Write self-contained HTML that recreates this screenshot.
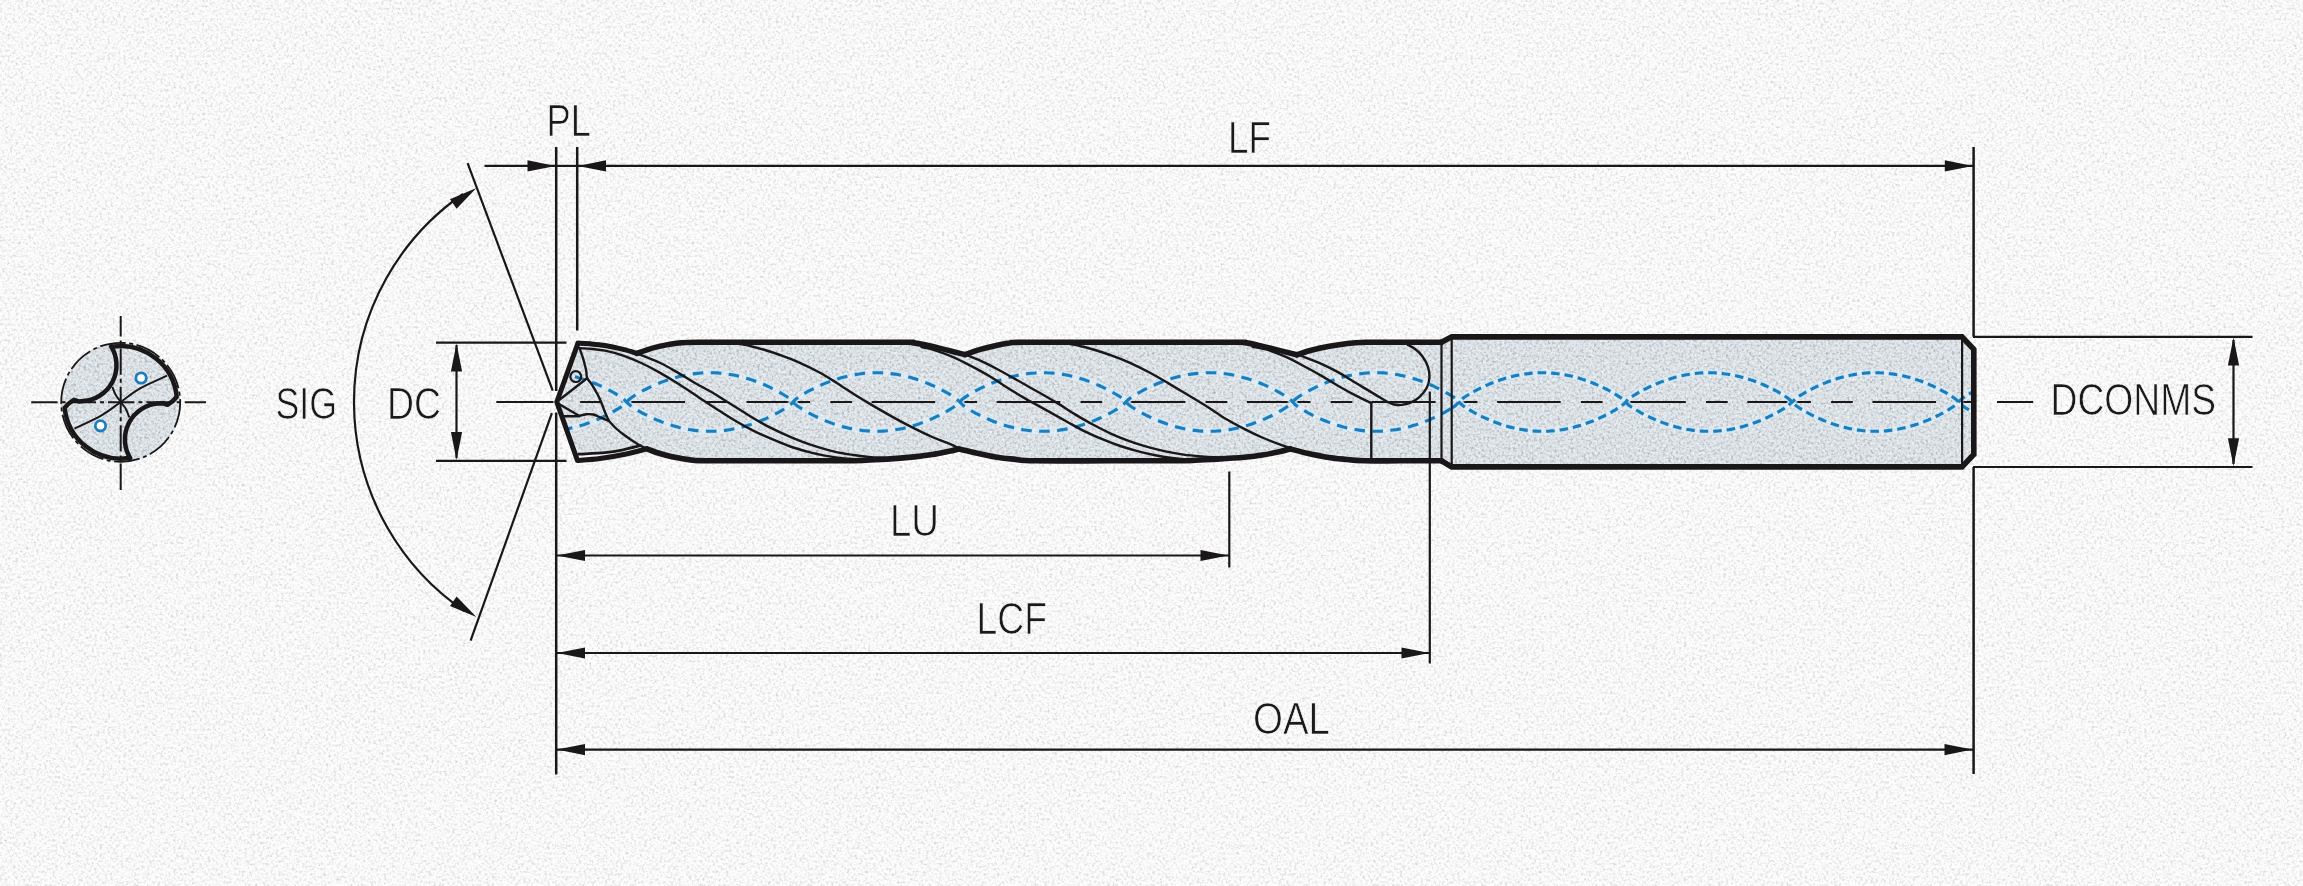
<!DOCTYPE html>
<html lang="en"><head><meta charset="utf-8"><title>Drill dimensions</title>
<style>html,body{margin:0;padding:0;background:#fcfcfc}body{width:2303px;height:886px;overflow:hidden}svg{display:block}text{font-family:"Liberation Sans",Arial,sans-serif;font-size:44.7px;fill:#1a1718;stroke:#fcfcfc;stroke-width:0.7px}</style>
</head><body>
<svg width="2303" height="886" viewBox="0 0 2303 886">
<defs>
<filter id="grain" x="0" y="0" width="100%" height="100%" color-interpolation-filters="sRGB"><feTurbulence type="fractalNoise" baseFrequency="0.38" numOctaves="3" seed="7" result="n"/><feColorMatrix in="n" type="matrix" values="0 0 0 0 0  0 0 0 0 0  0 0 0 0 0  1.6 0 0 0 -0.72"/></filter>
<filter id="grainw" x="0" y="0" width="100%" height="100%" color-interpolation-filters="sRGB"><feTurbulence type="fractalNoise" baseFrequency="0.42" numOctaves="3" seed="23" result="n"/><feColorMatrix in="n" type="matrix" values="0 0 0 0 1  0 0 0 0 1  0 0 0 0 1  1.8 0 0 0 -0.8"/></filter>
<clipPath id="bodyclip"><path d="M556.8 402L578 343.1L578 343.1C580 343.2 585.5 343.4 590 343.8C594.5 344.2 599.6 344.6 605.1 345.5C610.6 346.4 617.9 348.1 623.2 349.4C628.5 350.7 634.6 352.7 636.9 353.4L636.9 353.4C638.6 352.8 643.3 351 647 349.8C650.7 348.6 655.5 347.3 659.3 346.4C663.1 345.5 666.2 344.8 670 344.2C673.8 343.6 677.2 343.1 681.9 342.8C686.6 342.5 678.3 342.4 698 342.3C717.7 342.2 765.7 342.3 800 342.3C834.3 342.3 885.3 342.2 904 342.3C922.7 342.4 908.3 342.2 912 342.6C915.7 343 920.7 343.8 926.1 344.9C931.5 346 937.7 347.8 944.2 349.4C950.7 351 961.5 353.7 964.9 354.6L964.9 354.6C967.5 353.7 974.7 351 980.3 349.4C985.9 347.8 993.4 346 998.4 344.9C1003.4 343.8 1005.7 343.4 1010 343C1014.3 342.6 1004 342.4 1024 342.3C1044 342.2 1094.7 342.3 1130 342.3C1165.3 342.3 1217 342.2 1236 342.3C1255 342.4 1240.5 342.2 1244 342.6C1247.5 343 1251.9 343.8 1257.1 344.9C1262.3 346 1268.5 347.8 1275.1 349.4C1281.7 351 1293.2 353.9 1296.8 354.8L1296.8 354.8C1299.2 354.1 1305.9 351.7 1311.3 350.3C1316.7 348.9 1323.3 347.4 1329.3 346.3C1335.3 345.2 1341.4 344.2 1347.4 343.5C1353.4 342.8 1356.6 342.5 1365.4 342.3C1374.2 342.1 1387.3 342.3 1400 342.3C1412.7 342.3 1434.6 342.3 1441.5 342.3L1441.5 342.3 L1451.7 336.9 L1962 336.9 L1973.8 349.4 L1973.8 454.4 L1962 466.9 L1451.7 466.9 L1441.5 460.8L1441.5 460.8C1434.6 460.8 1412.9 460.8 1400 460.8C1387.1 460.8 1373.4 461.1 1364 460.8C1354.6 460.5 1349.9 459.8 1343.5 459.1C1337.1 458.5 1331.4 457.9 1325.4 456.9C1319.4 455.9 1313.3 454.6 1307.4 453.3C1301.5 452 1293.1 449.6 1290.2 448.9L1290.2 448.9C1288.5 449.3 1285 450.5 1280.3 451.5C1275.6 452.5 1268.2 454.1 1262.2 455.1C1256.2 456.1 1251.7 456.6 1244.2 457.3C1236.7 458 1224.5 458.7 1217.1 459.1C1209.7 459.6 1206.2 459.7 1200 460C1193.8 460.3 1195 460.7 1180 460.8C1165 460.9 1134.2 460.8 1110 460.8C1085.8 460.8 1051.1 461.1 1035 460.8C1018.9 460.5 1020.1 459.8 1013.5 459.1C1006.9 458.5 1001.4 457.9 995.4 456.9C989.4 455.9 983.5 454.6 977.4 453.3C971.3 452 961.7 449.7 958.6 449L958.6 449C957.2 449.3 954.7 450.1 950.3 451C945.9 451.9 938.2 453.6 932.2 454.6C926.2 455.6 921.7 456.1 914.2 456.9C906.7 457.6 894.5 458.6 887.1 459.1C879.7 459.6 876.2 459.7 870 460C863.8 460.3 865 460.7 850 460.8C835 460.9 804 460.8 780 460.8C756 460.8 720.8 460.9 706 460.8C691.2 460.7 695.8 460.5 691 460C686.2 459.5 681.7 458.6 677.4 457.8C673.1 457 668.7 456 665 455C661.3 454 658 453 655 452C652 451 648.1 449.4 646.7 448.9L646.7 448.9C643.1 449.8 632.8 452.6 625 454.2C617.2 455.8 607.9 457.5 600 458.6C592.1 459.7 581.2 460.3 577.5 460.6Z"/></clipPath>
<clipPath id="secclip"><circle cx="120.7" cy="402.3" r="59.5"/></clipPath>
</defs>
<rect width="2303" height="886" fill="#fcfcfc"/>
<rect width="2303" height="886" fill="#000" filter="url(#grain)" opacity="0.24"/>
<rect width="2303" height="886" fill="#fff" filter="url(#grainw)" opacity="0.8"/>
<path d="M556.8 402L578 343.1L578 343.1C580 343.2 585.5 343.4 590 343.8C594.5 344.2 599.6 344.6 605.1 345.5C610.6 346.4 617.9 348.1 623.2 349.4C628.5 350.7 634.6 352.7 636.9 353.4L636.9 353.4C638.6 352.8 643.3 351 647 349.8C650.7 348.6 655.5 347.3 659.3 346.4C663.1 345.5 666.2 344.8 670 344.2C673.8 343.6 677.2 343.1 681.9 342.8C686.6 342.5 678.3 342.4 698 342.3C717.7 342.2 765.7 342.3 800 342.3C834.3 342.3 885.3 342.2 904 342.3C922.7 342.4 908.3 342.2 912 342.6C915.7 343 920.7 343.8 926.1 344.9C931.5 346 937.7 347.8 944.2 349.4C950.7 351 961.5 353.7 964.9 354.6L964.9 354.6C967.5 353.7 974.7 351 980.3 349.4C985.9 347.8 993.4 346 998.4 344.9C1003.4 343.8 1005.7 343.4 1010 343C1014.3 342.6 1004 342.4 1024 342.3C1044 342.2 1094.7 342.3 1130 342.3C1165.3 342.3 1217 342.2 1236 342.3C1255 342.4 1240.5 342.2 1244 342.6C1247.5 343 1251.9 343.8 1257.1 344.9C1262.3 346 1268.5 347.8 1275.1 349.4C1281.7 351 1293.2 353.9 1296.8 354.8L1296.8 354.8C1299.2 354.1 1305.9 351.7 1311.3 350.3C1316.7 348.9 1323.3 347.4 1329.3 346.3C1335.3 345.2 1341.4 344.2 1347.4 343.5C1353.4 342.8 1356.6 342.5 1365.4 342.3C1374.2 342.1 1387.3 342.3 1400 342.3C1412.7 342.3 1434.6 342.3 1441.5 342.3L1441.5 342.3 L1451.7 336.9 L1962 336.9 L1973.8 349.4 L1973.8 454.4 L1962 466.9 L1451.7 466.9 L1441.5 460.8L1441.5 460.8C1434.6 460.8 1412.9 460.8 1400 460.8C1387.1 460.8 1373.4 461.1 1364 460.8C1354.6 460.5 1349.9 459.8 1343.5 459.1C1337.1 458.5 1331.4 457.9 1325.4 456.9C1319.4 455.9 1313.3 454.6 1307.4 453.3C1301.5 452 1293.1 449.6 1290.2 448.9L1290.2 448.9C1288.5 449.3 1285 450.5 1280.3 451.5C1275.6 452.5 1268.2 454.1 1262.2 455.1C1256.2 456.1 1251.7 456.6 1244.2 457.3C1236.7 458 1224.5 458.7 1217.1 459.1C1209.7 459.6 1206.2 459.7 1200 460C1193.8 460.3 1195 460.7 1180 460.8C1165 460.9 1134.2 460.8 1110 460.8C1085.8 460.8 1051.1 461.1 1035 460.8C1018.9 460.5 1020.1 459.8 1013.5 459.1C1006.9 458.5 1001.4 457.9 995.4 456.9C989.4 455.9 983.5 454.6 977.4 453.3C971.3 452 961.7 449.7 958.6 449L958.6 449C957.2 449.3 954.7 450.1 950.3 451C945.9 451.9 938.2 453.6 932.2 454.6C926.2 455.6 921.7 456.1 914.2 456.9C906.7 457.6 894.5 458.6 887.1 459.1C879.7 459.6 876.2 459.7 870 460C863.8 460.3 865 460.7 850 460.8C835 460.9 804 460.8 780 460.8C756 460.8 720.8 460.9 706 460.8C691.2 460.7 695.8 460.5 691 460C686.2 459.5 681.7 458.6 677.4 457.8C673.1 457 668.7 456 665 455C661.3 454 658 453 655 452C652 451 648.1 449.4 646.7 448.9L646.7 448.9C643.1 449.8 632.8 452.6 625 454.2C617.2 455.8 607.9 457.5 600 458.6C592.1 459.7 581.2 460.3 577.5 460.6Z" fill="#dce3e8"/>
<g clip-path="url(#bodyclip)"><rect x="550" y="330" width="1430" height="142" filter="url(#grain)" opacity="0.35"/><rect x="550" y="330" width="1430" height="142" filter="url(#grainw)" opacity="0.9"/></g>
<path d="M577.5 460.6C581.2 460.3 592.1 459.7 600 458.6C607.9 457.5 617.2 455.8 625 454.2C632.8 452.6 643.1 449.8 646.7 448.9 L640.5 445.6 L640.5 445.6C637.6 446.3 629.1 448.6 623.2 449.8C617.3 451 612.6 451.9 605.1 452.6C597.6 453.3 582.9 453.9 578.5 454.2 Z" fill="#f4f4f4"/>
<path d="M496.3 402H553.5M580.1 402H601.8M621.4 402H685M705.2 402H726.9M746.5 402H810.1M830.3 402H852M871.6 402H935.2M955.4 402H977.1M996.7 402H1060.3M1080.5 402H1102.2M1121.8 402H1185.4M1205.6 402H1227.3M1246.9 402H1310.5M1330.7 402H1352.4M1372 402H1435.6M1455.8 402H1477.5M1497.1 402H1560.7M1580.9 402H1602.6M1622.2 402H1685.8M1706 402H1727.7M1747.3 402H1810.9M1831.1 402H1852.8M1872.4 402H1936M1956.2 402H1975M1997 402H2033.2" stroke="#1a1718" stroke-width="2.2" fill="none"/>
<g fill="none" stroke-linecap="butt">
<defs><path id="w1a" d="M575 376.8C575.7 377 577.7 377.5 579 377.9C580.3 378.3 581.7 378.7 583 379.1C584.3 379.6 585.7 380 587 380.5C588.3 381 589.7 381.4 591 382C592.3 382.5 593.7 383 595 383.5C596.3 384.1 597.7 384.6 599 385.2C600.3 385.8 601.7 386.4 603 387.1C604.3 387.7 605.7 388.3 607 389C608.3 389.7 609.7 390.4 611 391.1C612.3 391.8 613.7 392.6 615 393.4C616.3 394.2 617.7 394.9 619 395.8C620.3 396.7 621.7 397.5 623 398.6C624.3 399.7 625.7 401.4 627 402.6C628.3 403.8 629.7 405 631 406C632.3 407 633.7 407.8 635 408.7C636.3 409.5 637.7 410.3 639 411.1C640.3 411.9 641.7 412.6 643 413.3C644.3 414 645.7 414.7 647 415.4C648.3 416 649.7 416.7 651 417.3C652.3 417.9 653.7 418.5 655 419.1C656.3 419.7 657.7 420.3 659 420.8C660.3 421.3 661.7 421.9 663 422.4C664.3 422.9 665.7 423.3 667 423.8C668.3 424.2 669.7 424.7 671 425.1C672.3 425.5 673.7 425.9 675 426.3C676.3 426.7 677.7 427 679 427.4C680.3 427.7 681.7 428 683 428.3C684.3 428.6 685.7 428.9 687 429.1C688.3 429.4 689.7 429.6 691 429.8C692.3 430 693.7 430.2 695 430.4C696.3 430.5 697.7 430.7 699 430.8C700.3 430.9 701.7 431 703 431.1C704.3 431.2 705.7 431.2 707 431.3C708.3 431.3 709.7 431.3 711 431.3C712.3 431.3 713.7 431.2 715 431.2C716.3 431.1 717.7 431.1 719 431C720.3 430.8 721.7 430.7 723 430.6C724.3 430.4 725.7 430.3 727 430.1C728.3 429.9 729.7 429.7 731 429.4C732.3 429.2 733.7 429 735 428.7C736.3 428.4 737.7 428.1 739 427.8C740.3 427.5 741.7 427.1 743 426.8C744.3 426.4 745.7 426 747 425.6C748.3 425.2 749.7 424.8 751 424.4C752.3 423.9 753.7 423.5 755 423C756.3 422.5 757.7 422 759 421.5C760.3 420.9 761.7 420.4 763 419.8C764.3 419.3 765.7 418.7 767 418.1C768.3 417.5 769.7 416.9 771 416.2C772.3 415.6 773.7 414.9 775 414.2C776.3 413.5 777.7 412.8 779 412.1C780.3 411.3 781.7 410.6 783 409.7C784.3 408.9 785.7 408.1 787 407.2C788.3 406.3 789.7 405.4 791 404.2C792.3 403 793.7 401.2 795 400C796.3 398.7 797.7 397.9 799 396.9C800.3 396 801.7 395.2 803 394.4C804.3 393.6 805.7 392.8 807 392C808.3 391.3 809.7 390.6 811 389.9C812.3 389.2 813.7 388.5 815 387.9C816.3 387.2 817.7 386.6 819 386C820.3 385.4 821.7 384.8 823 384.2C824.3 383.7 825.7 383.1 827 382.6C828.3 382.1 829.7 381.6 831 381.1C832.3 380.6 833.7 380.1 835 379.7C836.3 379.3 837.7 378.8 839 378.4C840.3 378 841.7 377.6 843 377.3C844.3 376.9 845.7 376.6 847 376.3C848.3 375.9 849.7 375.6 851 375.4C852.3 375.1 853.7 374.8 855 374.6C856.3 374.4 857.7 374.1 859 374C860.3 373.8 861.7 373.6 863 373.4C864.3 373.3 865.7 373.2 867 373.1C868.3 373 869.7 372.9 871 372.8C872.3 372.8 873.7 372.7 875 372.7C876.3 372.7 877.7 372.7 879 372.7C880.3 372.8 881.7 372.8 883 372.9C884.3 373 885.7 373.1 887 373.2C888.3 373.3 889.7 373.4 891 373.6C892.3 373.8 893.7 373.9 895 374.1C896.3 374.4 897.7 374.6 899 374.8C900.3 375.1 901.7 375.3 903 375.6C904.3 375.9 905.7 376.2 907 376.6C908.3 376.9 909.7 377.3 911 377.6C912.3 378 913.7 378.4 915 378.8C916.3 379.2 917.7 379.7 919 380.1C920.3 380.6 921.7 381.1 923 381.6C924.3 382.1 925.7 382.6 927 383.1C928.3 383.7 929.7 384.2 931 384.8C932.3 385.4 933.7 386 935 386.6C936.3 387.2 937.7 387.9 939 388.5C940.3 389.2 941.7 389.9 943 390.6C944.3 391.3 945.7 392 947 392.8C948.3 393.6 949.7 394.3 951 395.2C952.3 396 953.7 396.9 955 397.9C956.3 398.9 957.7 400 959 401.2C960.3 402.4 961.7 404.1 963 405.3C964.3 406.4 965.7 407.2 967 408C968.3 408.9 969.7 409.7 971 410.5C972.3 411.3 973.7 412.1 975 412.8C976.3 413.5 977.7 414.2 979 414.9C980.3 415.6 981.7 416.2 983 416.8C984.3 417.5 985.7 418.1 987 418.7C988.3 419.3 989.7 419.8 991 420.4C992.3 420.9 993.7 421.5 995 422C996.3 422.5 997.7 423 999 423.4C1000.3 423.9 1001.7 424.4 1003 424.8C1004.3 425.2 1005.7 425.6 1007 426C1008.3 426.4 1009.7 426.8 1011 427.1C1012.3 427.5 1013.7 427.8 1015 428.1C1016.3 428.4 1017.7 428.7 1019 428.9C1020.3 429.2 1021.7 429.4 1023 429.7C1024.3 429.9 1025.7 430.1 1027 430.3C1028.3 430.4 1029.7 430.6 1031 430.7C1032.3 430.8 1033.7 431 1035 431C1036.3 431.1 1037.7 431.2 1039 431.2C1040.3 431.3 1041.7 431.3 1043 431.3C1044.3 431.3 1045.7 431.3 1047 431.2C1048.3 431.2 1049.7 431.1 1051 431C1052.3 430.9 1053.7 430.8 1055 430.7C1056.3 430.6 1057.7 430.4 1059 430.2C1060.3 430 1061.7 429.8 1063 429.6C1064.3 429.4 1065.7 429.1 1067 428.9C1068.3 428.6 1069.7 428.3 1071 428C1072.3 427.7 1073.7 427.4 1075 427C1076.3 426.7 1077.7 426.3 1079 425.9C1080.3 425.5 1081.7 425.1 1083 424.7C1084.3 424.3 1085.7 423.8 1087 423.3C1088.3 422.9 1089.7 422.4 1091 421.9C1092.3 421.3 1093.7 420.8 1095 420.3C1096.3 419.7 1097.7 419.1 1099 418.5C1100.3 417.9 1101.7 417.3 1103 416.7C1104.3 416.1 1105.7 415.4 1107 414.7C1108.3 414 1109.7 413.3 1111 412.6C1112.3 411.9 1113.7 411.1 1115 410.3C1116.3 409.5 1117.7 408.7 1119 407.9C1120.3 407 1121.7 406.2 1123 405C1124.3 403.9 1125.7 402.1 1127 400.9C1128.3 399.6 1129.7 398.6 1131 397.6C1132.3 396.7 1133.7 395.8 1135 395C1136.3 394.2 1137.7 393.4 1139 392.6C1140.3 391.9 1141.7 391.1 1143 390.4C1144.3 389.7 1145.7 389 1147 388.4C1148.3 387.7 1149.7 387.1 1151 386.5C1152.3 385.8 1153.7 385.2 1155 384.7C1156.3 384.1 1157.7 383.5 1159 383C1160.3 382.5 1161.7 382 1163 381.5C1164.3 381 1165.7 380.5 1167 380C1168.3 379.6 1169.7 379.2 1171 378.7C1172.3 378.3 1173.7 377.9 1175 377.6C1176.3 377.2 1177.7 376.8 1179 376.5C1180.3 376.2 1181.7 375.9 1183 375.6C1184.3 375.3 1185.7 375 1187 374.8C1188.3 374.5 1189.7 374.3 1191 374.1C1192.3 373.9 1193.7 373.7 1195 373.6C1196.3 373.4 1197.7 373.3 1199 373.1C1200.3 373 1201.7 372.9 1203 372.9C1204.3 372.8 1205.7 372.7 1207 372.7C1208.3 372.7 1209.7 372.7 1211 372.7C1212.3 372.7 1213.7 372.8 1215 372.8C1216.3 372.9 1217.7 373 1219 373.1C1220.3 373.2 1221.7 373.3 1223 373.5C1224.3 373.6 1225.7 373.8 1227 374C1228.3 374.2 1229.7 374.4 1231 374.6C1232.3 374.9 1233.7 375.1 1235 375.4C1236.3 375.7 1237.7 376 1239 376.3C1240.3 376.7 1241.7 377 1243 377.4C1244.3 377.7 1245.7 378.1 1247 378.5C1248.3 378.9 1249.7 379.4 1251 379.8C1252.3 380.3 1253.7 380.7 1255 381.2C1256.3 381.7 1257.7 382.2 1259 382.7C1260.3 383.3 1261.7 383.8 1263 384.4C1264.3 384.9 1265.7 385.5 1267 386.1C1268.3 386.7 1269.7 387.4 1271 388C1272.3 388.7 1273.7 389.3 1275 390C1276.3 390.7 1277.7 391.5 1279 392.2C1280.3 393 1281.7 393.7 1283 394.6C1284.3 395.4 1285.7 396.2 1287 397.2C1288.3 398.1 1289.7 399 1291 400.2C1292.3 401.4 1293.7 403.3 1295 404.5C1296.3 405.7 1297.7 406.5 1299 407.4C1300.3 408.3 1301.7 409.1 1303 409.9C1304.3 410.7 1305.7 411.5 1307 412.2C1308.3 413 1309.7 413.7 1311 414.4C1312.3 415.1 1313.7 415.7 1315 416.4C1316.3 417 1317.7 417.6 1319 418.2C1320.3 418.8 1321.7 419.4 1323 420C1324.3 420.5 1325.7 421.1 1327 421.6C1328.3 422.1 1329.7 422.6 1331 423.1C1332.3 423.6 1333.7 424 1335 424.5C1336.3 424.9 1337.7 425.3 1339 425.7C1340.3 426.1 1341.7 426.5 1343 426.9C1344.3 427.2 1345.7 427.5 1347 427.9C1348.3 428.2 1349.7 428.5 1351 428.7C1352.3 429 1353.7 429.3 1355 429.5C1356.3 429.7 1357.7 429.9 1359 430.1C1360.3 430.3 1361.7 430.5 1363 430.6C1364.3 430.8 1365.7 430.9 1367 431C1368.3 431.1 1369.7 431.1 1371 431.2C1372.3 431.3 1373.7 431.3 1375 431.3C1376.3 431.3 1377.7 431.3 1379 431.3C1380.3 431.2 1381.7 431.2 1383 431.1C1384.3 431 1385.7 430.9 1387 430.8C1388.3 430.7 1389.7 430.5 1391 430.3C1392.3 430.2 1393.7 430 1395 429.8C1396.3 429.6 1397.7 429.3 1399 429.1C1400.3 428.8 1401.7 428.5 1403 428.3C1404.3 428 1405.7 427.6 1407 427.3C1408.3 427 1409.7 426.6 1411 426.2C1412.3 425.8 1413.7 425.4 1415 425C1416.3 424.6 1417.7 424.1 1419 423.7C1420.3 423.2 1421.7 422.7 1423 422.2C1424.3 421.7 1425.7 421.2 1427 420.7C1428.3 420.1 1429.7 419.6 1431 419C1432.3 418.4 1433.7 417.8 1435 417.2C1436.3 416.5 1437.7 415.9 1439 415.2C1440.3 414.6 1441.7 413.9 1443 413.2C1444.3 412.4 1445.7 411.7 1447 410.9C1448.3 410.1 1450.2 409 1451 408.5C1451.8 408 1451.8 408 1452 407.9"/><path id="w2a" d="M1452 407.9C1452.7 407.4 1454.7 406.2 1456 405C1457.3 403.9 1458.7 402.1 1460 400.9C1461.3 399.6 1462.7 398.6 1464 397.6C1465.3 396.7 1466.7 395.8 1468 395C1469.3 394.2 1470.7 393.4 1472 392.6C1473.3 391.9 1474.7 391.1 1476 390.4C1477.3 389.7 1478.7 389 1480 388.4C1481.3 387.7 1482.7 387.1 1484 386.5C1485.3 385.8 1486.7 385.2 1488 384.7C1489.3 384.1 1490.7 383.5 1492 383C1493.3 382.5 1494.7 382 1496 381.5C1497.3 381 1498.7 380.5 1500 380C1501.3 379.6 1502.7 379.2 1504 378.7C1505.3 378.3 1506.7 377.9 1508 377.6C1509.3 377.2 1510.7 376.8 1512 376.5C1513.3 376.2 1514.7 375.9 1516 375.6C1517.3 375.3 1518.7 375 1520 374.8C1521.3 374.5 1522.7 374.3 1524 374.1C1525.3 373.9 1526.7 373.7 1528 373.6C1529.3 373.4 1530.7 373.3 1532 373.1C1533.3 373 1534.7 372.9 1536 372.9C1537.3 372.8 1538.7 372.7 1540 372.7C1541.3 372.7 1542.7 372.7 1544 372.7C1545.3 372.7 1546.7 372.8 1548 372.8C1549.3 372.9 1550.7 373 1552 373.1C1553.3 373.2 1554.7 373.3 1556 373.5C1557.3 373.6 1558.7 373.8 1560 374C1561.3 374.2 1562.7 374.4 1564 374.6C1565.3 374.9 1566.7 375.1 1568 375.4C1569.3 375.7 1570.7 376 1572 376.3C1573.3 376.7 1574.7 377 1576 377.4C1577.3 377.7 1578.7 378.1 1580 378.5C1581.3 378.9 1582.7 379.4 1584 379.8C1585.3 380.3 1586.7 380.7 1588 381.2C1589.3 381.7 1590.7 382.2 1592 382.7C1593.3 383.3 1594.7 383.8 1596 384.4C1597.3 384.9 1598.7 385.5 1600 386.1C1601.3 386.7 1602.7 387.4 1604 388C1605.3 388.7 1606.7 389.3 1608 390C1609.3 390.7 1610.7 391.5 1612 392.2C1613.3 393 1614.7 393.7 1616 394.6C1617.3 395.4 1618.7 396.2 1620 397.2C1621.3 398.1 1622.7 399 1624 400.2C1625.3 401.4 1626.7 403.3 1628 404.5C1629.3 405.7 1630.7 406.5 1632 407.4C1633.3 408.3 1634.7 409.1 1636 409.9C1637.3 410.7 1638.7 411.5 1640 412.2C1641.3 413 1642.7 413.7 1644 414.4C1645.3 415.1 1646.7 415.7 1648 416.4C1649.3 417 1650.7 417.6 1652 418.2C1653.3 418.8 1654.7 419.4 1656 420C1657.3 420.5 1658.7 421.1 1660 421.6C1661.3 422.1 1662.7 422.6 1664 423.1C1665.3 423.6 1666.7 424 1668 424.5C1669.3 424.9 1670.7 425.3 1672 425.7C1673.3 426.1 1674.7 426.5 1676 426.9C1677.3 427.2 1678.7 427.5 1680 427.9C1681.3 428.2 1682.7 428.5 1684 428.7C1685.3 429 1686.7 429.3 1688 429.5C1689.3 429.7 1690.7 429.9 1692 430.1C1693.3 430.3 1694.7 430.5 1696 430.6C1697.3 430.8 1698.7 430.9 1700 431C1701.3 431.1 1702.7 431.1 1704 431.2C1705.3 431.3 1706.7 431.3 1708 431.3C1709.3 431.3 1710.7 431.3 1712 431.3C1713.3 431.2 1714.7 431.2 1716 431.1C1717.3 431 1718.7 430.9 1720 430.8C1721.3 430.7 1722.7 430.5 1724 430.3C1725.3 430.2 1726.7 430 1728 429.8C1729.3 429.6 1730.7 429.3 1732 429.1C1733.3 428.8 1734.7 428.5 1736 428.3C1737.3 428 1738.7 427.6 1740 427.3C1741.3 427 1742.7 426.6 1744 426.2C1745.3 425.8 1746.7 425.4 1748 425C1749.3 424.6 1750.7 424.1 1752 423.7C1753.3 423.2 1754.7 422.7 1756 422.2C1757.3 421.7 1758.7 421.2 1760 420.7C1761.3 420.1 1762.7 419.6 1764 419C1765.3 418.4 1766.7 417.8 1768 417.2C1769.3 416.5 1770.7 415.9 1772 415.2C1773.3 414.6 1774.7 413.9 1776 413.2C1777.3 412.4 1778.7 411.7 1780 410.9C1781.3 410.1 1782.7 409.4 1784 408.5C1785.3 407.6 1786.7 406.8 1788 405.8C1789.3 404.7 1790.7 403.4 1792 402.2C1793.3 401 1794.7 399.5 1796 398.4C1797.3 397.3 1798.7 396.5 1800 395.6C1801.3 394.8 1802.7 394 1804 393.2C1805.3 392.4 1806.7 391.7 1808 391C1809.3 390.2 1810.7 389.5 1812 388.9C1813.3 388.2 1814.7 387.5 1816 386.9C1817.3 386.3 1818.7 385.7 1820 385.1C1821.3 384.5 1822.7 384 1824 383.4C1825.3 382.9 1826.7 382.3 1828 381.8C1829.3 381.3 1830.7 380.8 1832 380.4C1833.3 379.9 1834.7 379.5 1836 379.1C1837.3 378.6 1838.7 378.2 1840 377.8C1841.3 377.5 1842.7 377.1 1844 376.8C1845.3 376.4 1846.7 376.1 1848 375.8C1849.3 375.5 1850.7 375.2 1852 375C1853.3 374.7 1854.7 374.5 1856 374.3C1857.3 374 1858.7 373.9 1860 373.7C1861.3 373.5 1862.7 373.4 1864 373.2C1865.3 373.1 1866.7 373 1868 372.9C1869.3 372.8 1870.7 372.8 1872 372.7C1873.3 372.7 1874.7 372.7 1876 372.7C1877.3 372.7 1878.7 372.7 1880 372.8C1881.3 372.8 1882.7 372.9 1884 373C1885.3 373.1 1886.7 373.2 1888 373.4C1889.3 373.5 1890.7 373.7 1892 373.9C1893.3 374 1894.7 374.2 1896 374.5C1897.3 374.7 1898.7 374.9 1900 375.2C1901.3 375.5 1902.7 375.8 1904 376.1C1905.3 376.4 1906.7 376.7 1908 377.1C1909.3 377.4 1910.7 377.8 1912 378.2C1913.3 378.6 1914.7 379 1916 379.5C1917.3 379.9 1918.7 380.4 1920 380.8C1921.3 381.3 1922.7 381.8 1924 382.3C1925.3 382.9 1926.7 383.4 1928 383.9C1929.3 384.5 1930.7 385.1 1932 385.7C1933.3 386.3 1934.7 386.9 1936 387.5C1937.3 388.2 1938.7 388.8 1940 389.5C1941.3 390.2 1942.7 390.9 1944 391.7C1945.3 392.4 1946.7 393.2 1948 394C1949.3 394.8 1950.7 395.6 1952 396.5C1953.3 397.4 1954.7 398.2 1956 399.4C1957.3 400.6 1958.7 402.4 1960 403.6C1961.3 404.8 1962.7 405.8 1964 406.7C1965.3 407.7 1966.7 408.5 1968 409.3C1969.3 410.1 1971.2 411.2 1972 411.7C1972.8 412.2 1972.8 412.1 1973 412.2"/></defs>
<defs><path id="w1b" d="M567 429C567.7 428.8 569.7 428.4 571 428.1C572.3 427.8 573.7 427.5 575 427.2C576.3 426.8 577.7 426.5 579 426.1C580.3 425.7 581.7 425.3 583 424.9C584.3 424.4 585.7 424 587 423.5C588.3 423 589.7 422.6 591 422C592.3 421.5 593.7 421 595 420.5C596.3 419.9 597.7 419.4 599 418.8C600.3 418.2 601.7 417.6 603 416.9C604.3 416.3 605.7 415.7 607 415C608.3 414.3 609.7 413.6 611 412.9C612.3 412.2 613.7 411.4 615 410.6C616.3 409.8 617.7 409.1 619 408.2C620.3 407.3 621.7 406.5 623 405.4C624.3 404.3 625.7 402.6 627 401.4C628.3 400.2 629.7 399 631 398C632.3 397 633.7 396.2 635 395.3C636.3 394.5 637.7 393.7 639 392.9C640.3 392.1 641.7 391.4 643 390.7C644.3 390 645.7 389.3 647 388.6C648.3 388 649.7 387.3 651 386.7C652.3 386.1 653.7 385.5 655 384.9C656.3 384.3 657.7 383.7 659 383.2C660.3 382.7 661.7 382.1 663 381.6C664.3 381.1 665.7 380.7 667 380.2C668.3 379.8 669.7 379.3 671 378.9C672.3 378.5 673.7 378.1 675 377.7C676.3 377.3 677.7 377 679 376.6C680.3 376.3 681.7 376 683 375.7C684.3 375.4 685.7 375.1 687 374.9C688.3 374.6 689.7 374.4 691 374.2C692.3 374 693.7 373.8 695 373.6C696.3 373.5 697.7 373.3 699 373.2C700.3 373.1 701.7 373 703 372.9C704.3 372.8 705.7 372.8 707 372.7C708.3 372.7 709.7 372.7 711 372.7C712.3 372.7 713.7 372.8 715 372.8C716.3 372.9 717.7 372.9 719 373C720.3 373.2 721.7 373.3 723 373.4C724.3 373.6 725.7 373.7 727 373.9C728.3 374.1 729.7 374.3 731 374.6C732.3 374.8 733.7 375 735 375.3C736.3 375.6 737.7 375.9 739 376.2C740.3 376.5 741.7 376.9 743 377.2C744.3 377.6 745.7 378 747 378.4C748.3 378.8 749.7 379.2 751 379.6C752.3 380.1 753.7 380.5 755 381C756.3 381.5 757.7 382 759 382.5C760.3 383.1 761.7 383.6 763 384.2C764.3 384.7 765.7 385.3 767 385.9C768.3 386.5 769.7 387.1 771 387.8C772.3 388.4 773.7 389.1 775 389.8C776.3 390.5 777.7 391.2 779 391.9C780.3 392.7 781.7 393.4 783 394.3C784.3 395.1 785.7 395.9 787 396.8C788.3 397.7 789.7 398.6 791 399.8C792.3 401 793.7 402.8 795 404C796.3 405.3 797.7 406.1 799 407.1C800.3 408 801.7 408.8 803 409.6C804.3 410.4 805.7 411.2 807 412C808.3 412.7 809.7 413.4 811 414.1C812.3 414.8 813.7 415.5 815 416.1C816.3 416.8 817.7 417.4 819 418C820.3 418.6 821.7 419.2 823 419.8C824.3 420.3 825.7 420.9 827 421.4C828.3 421.9 829.7 422.4 831 422.9C832.3 423.4 833.7 423.9 835 424.3C836.3 424.7 837.7 425.2 839 425.6C840.3 426 841.7 426.4 843 426.7C844.3 427.1 845.7 427.4 847 427.7C848.3 428.1 849.7 428.4 851 428.6C852.3 428.9 853.7 429.2 855 429.4C856.3 429.6 857.7 429.9 859 430C860.3 430.2 861.7 430.4 863 430.6C864.3 430.7 865.7 430.8 867 430.9C868.3 431 869.7 431.1 871 431.2C872.3 431.2 873.7 431.3 875 431.3C876.3 431.3 877.7 431.3 879 431.3C880.3 431.2 881.7 431.2 883 431.1C884.3 431 885.7 430.9 887 430.8C888.3 430.7 889.7 430.6 891 430.4C892.3 430.2 893.7 430.1 895 429.9C896.3 429.6 897.7 429.4 899 429.2C900.3 428.9 901.7 428.7 903 428.4C904.3 428.1 905.7 427.8 907 427.4C908.3 427.1 909.7 426.7 911 426.4C912.3 426 913.7 425.6 915 425.2C916.3 424.8 917.7 424.3 919 423.9C920.3 423.4 921.7 422.9 923 422.4C924.3 421.9 925.7 421.4 927 420.9C928.3 420.3 929.7 419.8 931 419.2C932.3 418.6 933.7 418 935 417.4C936.3 416.8 937.7 416.1 939 415.5C940.3 414.8 941.7 414.1 943 413.4C944.3 412.7 945.7 412 947 411.2C948.3 410.4 949.7 409.7 951 408.8C952.3 408 953.7 407.1 955 406.1C956.3 405.1 957.7 404 959 402.8C960.3 401.6 961.7 399.9 963 398.7C964.3 397.6 965.7 396.8 967 396C968.3 395.1 969.7 394.3 971 393.5C972.3 392.7 973.7 391.9 975 391.2C976.3 390.5 977.7 389.8 979 389.1C980.3 388.4 981.7 387.8 983 387.2C984.3 386.5 985.7 385.9 987 385.3C988.3 384.7 989.7 384.2 991 383.6C992.3 383.1 993.7 382.5 995 382C996.3 381.5 997.7 381 999 380.6C1000.3 380.1 1001.7 379.6 1003 379.2C1004.3 378.8 1005.7 378.4 1007 378C1008.3 377.6 1009.7 377.2 1011 376.9C1012.3 376.5 1013.7 376.2 1015 375.9C1016.3 375.6 1017.7 375.3 1019 375.1C1020.3 374.8 1021.7 374.6 1023 374.3C1024.3 374.1 1025.7 373.9 1027 373.7C1028.3 373.6 1029.7 373.4 1031 373.3C1032.3 373.2 1033.7 373 1035 373C1036.3 372.9 1037.7 372.8 1039 372.8C1040.3 372.7 1041.7 372.7 1043 372.7C1044.3 372.7 1045.7 372.7 1047 372.8C1048.3 372.8 1049.7 372.9 1051 373C1052.3 373.1 1053.7 373.2 1055 373.3C1056.3 373.4 1057.7 373.6 1059 373.8C1060.3 374 1061.7 374.2 1063 374.4C1064.3 374.6 1065.7 374.9 1067 375.1C1068.3 375.4 1069.7 375.7 1071 376C1072.3 376.3 1073.7 376.6 1075 377C1076.3 377.3 1077.7 377.7 1079 378.1C1080.3 378.5 1081.7 378.9 1083 379.3C1084.3 379.7 1085.7 380.2 1087 380.7C1088.3 381.1 1089.7 381.6 1091 382.1C1092.3 382.7 1093.7 383.2 1095 383.7C1096.3 384.3 1097.7 384.9 1099 385.5C1100.3 386.1 1101.7 386.7 1103 387.3C1104.3 387.9 1105.7 388.6 1107 389.3C1108.3 390 1109.7 390.7 1111 391.4C1112.3 392.1 1113.7 392.9 1115 393.7C1116.3 394.5 1117.7 395.3 1119 396.1C1120.3 397 1121.7 397.8 1123 399C1124.3 400.1 1125.7 401.9 1127 403.1C1128.3 404.4 1129.7 405.4 1131 406.4C1132.3 407.3 1133.7 408.2 1135 409C1136.3 409.8 1137.7 410.6 1139 411.4C1140.3 412.1 1141.7 412.9 1143 413.6C1144.3 414.3 1145.7 415 1147 415.6C1148.3 416.3 1149.7 416.9 1151 417.5C1152.3 418.2 1153.7 418.8 1155 419.3C1156.3 419.9 1157.7 420.5 1159 421C1160.3 421.5 1161.7 422 1163 422.5C1164.3 423 1165.7 423.5 1167 424C1168.3 424.4 1169.7 424.8 1171 425.3C1172.3 425.7 1173.7 426.1 1175 426.4C1176.3 426.8 1177.7 427.2 1179 427.5C1180.3 427.8 1181.7 428.1 1183 428.4C1184.3 428.7 1185.7 429 1187 429.2C1188.3 429.5 1189.7 429.7 1191 429.9C1192.3 430.1 1193.7 430.3 1195 430.4C1196.3 430.6 1197.7 430.7 1199 430.9C1200.3 431 1201.7 431.1 1203 431.1C1204.3 431.2 1205.7 431.3 1207 431.3C1208.3 431.3 1209.7 431.3 1211 431.3C1212.3 431.3 1213.7 431.2 1215 431.2C1216.3 431.1 1217.7 431 1219 430.9C1220.3 430.8 1221.7 430.7 1223 430.5C1224.3 430.4 1225.7 430.2 1227 430C1228.3 429.8 1229.7 429.6 1231 429.4C1232.3 429.1 1233.7 428.9 1235 428.6C1236.3 428.3 1237.7 428 1239 427.7C1240.3 427.3 1241.7 427 1243 426.6C1244.3 426.3 1245.7 425.9 1247 425.5C1248.3 425.1 1249.7 424.6 1251 424.2C1252.3 423.7 1253.7 423.3 1255 422.8C1256.3 422.3 1257.7 421.8 1259 421.3C1260.3 420.7 1261.7 420.2 1263 419.6C1264.3 419.1 1265.7 418.5 1267 417.9C1268.3 417.3 1269.7 416.6 1271 416C1272.3 415.3 1273.7 414.7 1275 414C1276.3 413.3 1277.7 412.5 1279 411.8C1280.3 411 1281.7 410.3 1283 409.4C1284.3 408.6 1285.7 407.8 1287 406.8C1288.3 405.9 1289.7 405 1291 403.8C1292.3 402.6 1293.7 400.7 1295 399.5C1296.3 398.3 1297.7 397.5 1299 396.6C1300.3 395.7 1301.7 394.9 1303 394.1C1304.3 393.3 1305.7 392.5 1307 391.8C1308.3 391 1309.7 390.3 1311 389.6C1312.3 388.9 1313.7 388.3 1315 387.6C1316.3 387 1317.7 386.4 1319 385.8C1320.3 385.2 1321.7 384.6 1323 384C1324.3 383.5 1325.7 382.9 1327 382.4C1328.3 381.9 1329.7 381.4 1331 380.9C1332.3 380.4 1333.7 380 1335 379.5C1336.3 379.1 1337.7 378.7 1339 378.3C1340.3 377.9 1341.7 377.5 1343 377.1C1344.3 376.8 1345.7 376.5 1347 376.1C1348.3 375.8 1349.7 375.5 1351 375.3C1352.3 375 1353.7 374.7 1355 374.5C1356.3 374.3 1357.7 374.1 1359 373.9C1360.3 373.7 1361.7 373.5 1363 373.4C1364.3 373.2 1365.7 373.1 1367 373C1368.3 372.9 1369.7 372.9 1371 372.8C1372.3 372.7 1373.7 372.7 1375 372.7C1376.3 372.7 1377.7 372.7 1379 372.7C1380.3 372.8 1381.7 372.8 1383 372.9C1384.3 373 1385.7 373.1 1387 373.2C1388.3 373.3 1389.7 373.5 1391 373.7C1392.3 373.8 1393.7 374 1395 374.2C1396.3 374.4 1397.7 374.7 1399 374.9C1400.3 375.2 1401.7 375.5 1403 375.7C1404.3 376 1405.7 376.4 1407 376.7C1408.3 377 1409.7 377.4 1411 377.8C1412.3 378.2 1413.7 378.6 1415 379C1416.3 379.4 1417.7 379.9 1419 380.3C1420.3 380.8 1421.7 381.3 1423 381.8C1424.3 382.3 1425.7 382.8 1427 383.3C1428.3 383.9 1429.7 384.4 1431 385C1432.3 385.6 1433.7 386.2 1435 386.8C1436.3 387.5 1437.7 388.1 1439 388.8C1440.3 389.4 1441.7 390.1 1443 390.8C1444.3 391.6 1445.7 392.3 1447 393.1C1448.3 393.9 1450.2 395 1451 395.5C1451.8 396 1451.8 396 1452 396.1"/><path id="w2b" d="M1452 396.1C1452.7 396.6 1454.7 397.8 1456 399C1457.3 400.1 1458.7 401.9 1460 403.1C1461.3 404.4 1462.7 405.4 1464 406.4C1465.3 407.3 1466.7 408.2 1468 409C1469.3 409.8 1470.7 410.6 1472 411.4C1473.3 412.1 1474.7 412.9 1476 413.6C1477.3 414.3 1478.7 415 1480 415.6C1481.3 416.3 1482.7 416.9 1484 417.5C1485.3 418.2 1486.7 418.8 1488 419.3C1489.3 419.9 1490.7 420.5 1492 421C1493.3 421.5 1494.7 422 1496 422.5C1497.3 423 1498.7 423.5 1500 424C1501.3 424.4 1502.7 424.8 1504 425.3C1505.3 425.7 1506.7 426.1 1508 426.4C1509.3 426.8 1510.7 427.2 1512 427.5C1513.3 427.8 1514.7 428.1 1516 428.4C1517.3 428.7 1518.7 429 1520 429.2C1521.3 429.5 1522.7 429.7 1524 429.9C1525.3 430.1 1526.7 430.3 1528 430.4C1529.3 430.6 1530.7 430.7 1532 430.9C1533.3 431 1534.7 431.1 1536 431.1C1537.3 431.2 1538.7 431.3 1540 431.3C1541.3 431.3 1542.7 431.3 1544 431.3C1545.3 431.3 1546.7 431.2 1548 431.2C1549.3 431.1 1550.7 431 1552 430.9C1553.3 430.8 1554.7 430.7 1556 430.5C1557.3 430.4 1558.7 430.2 1560 430C1561.3 429.8 1562.7 429.6 1564 429.4C1565.3 429.1 1566.7 428.9 1568 428.6C1569.3 428.3 1570.7 428 1572 427.7C1573.3 427.3 1574.7 427 1576 426.6C1577.3 426.3 1578.7 425.9 1580 425.5C1581.3 425.1 1582.7 424.6 1584 424.2C1585.3 423.7 1586.7 423.3 1588 422.8C1589.3 422.3 1590.7 421.8 1592 421.3C1593.3 420.7 1594.7 420.2 1596 419.6C1597.3 419.1 1598.7 418.5 1600 417.9C1601.3 417.3 1602.7 416.6 1604 416C1605.3 415.3 1606.7 414.7 1608 414C1609.3 413.3 1610.7 412.5 1612 411.8C1613.3 411 1614.7 410.3 1616 409.4C1617.3 408.6 1618.7 407.8 1620 406.8C1621.3 405.9 1622.7 405 1624 403.8C1625.3 402.6 1626.7 400.7 1628 399.5C1629.3 398.3 1630.7 397.5 1632 396.6C1633.3 395.7 1634.7 394.9 1636 394.1C1637.3 393.3 1638.7 392.5 1640 391.8C1641.3 391 1642.7 390.3 1644 389.6C1645.3 388.9 1646.7 388.3 1648 387.6C1649.3 387 1650.7 386.4 1652 385.8C1653.3 385.2 1654.7 384.6 1656 384C1657.3 383.5 1658.7 382.9 1660 382.4C1661.3 381.9 1662.7 381.4 1664 380.9C1665.3 380.4 1666.7 380 1668 379.5C1669.3 379.1 1670.7 378.7 1672 378.3C1673.3 377.9 1674.7 377.5 1676 377.1C1677.3 376.8 1678.7 376.5 1680 376.1C1681.3 375.8 1682.7 375.5 1684 375.3C1685.3 375 1686.7 374.7 1688 374.5C1689.3 374.3 1690.7 374.1 1692 373.9C1693.3 373.7 1694.7 373.5 1696 373.4C1697.3 373.2 1698.7 373.1 1700 373C1701.3 372.9 1702.7 372.9 1704 372.8C1705.3 372.7 1706.7 372.7 1708 372.7C1709.3 372.7 1710.7 372.7 1712 372.7C1713.3 372.8 1714.7 372.8 1716 372.9C1717.3 373 1718.7 373.1 1720 373.2C1721.3 373.3 1722.7 373.5 1724 373.7C1725.3 373.8 1726.7 374 1728 374.2C1729.3 374.4 1730.7 374.7 1732 374.9C1733.3 375.2 1734.7 375.5 1736 375.7C1737.3 376 1738.7 376.4 1740 376.7C1741.3 377 1742.7 377.4 1744 377.8C1745.3 378.2 1746.7 378.6 1748 379C1749.3 379.4 1750.7 379.9 1752 380.3C1753.3 380.8 1754.7 381.3 1756 381.8C1757.3 382.3 1758.7 382.8 1760 383.3C1761.3 383.9 1762.7 384.4 1764 385C1765.3 385.6 1766.7 386.2 1768 386.8C1769.3 387.5 1770.7 388.1 1772 388.8C1773.3 389.4 1774.7 390.1 1776 390.8C1777.3 391.6 1778.7 392.3 1780 393.1C1781.3 393.9 1782.7 394.6 1784 395.5C1785.3 396.4 1786.7 397.2 1788 398.2C1789.3 399.3 1790.7 400.6 1792 401.8C1793.3 403 1794.7 404.5 1796 405.6C1797.3 406.7 1798.7 407.5 1800 408.4C1801.3 409.2 1802.7 410 1804 410.8C1805.3 411.6 1806.7 412.3 1808 413C1809.3 413.8 1810.7 414.5 1812 415.1C1813.3 415.8 1814.7 416.5 1816 417.1C1817.3 417.7 1818.7 418.3 1820 418.9C1821.3 419.5 1822.7 420 1824 420.6C1825.3 421.1 1826.7 421.7 1828 422.2C1829.3 422.7 1830.7 423.2 1832 423.6C1833.3 424.1 1834.7 424.5 1836 424.9C1837.3 425.4 1838.7 425.8 1840 426.2C1841.3 426.5 1842.7 426.9 1844 427.2C1845.3 427.6 1846.7 427.9 1848 428.2C1849.3 428.5 1850.7 428.8 1852 429C1853.3 429.3 1854.7 429.5 1856 429.7C1857.3 430 1858.7 430.1 1860 430.3C1861.3 430.5 1862.7 430.6 1864 430.8C1865.3 430.9 1866.7 431 1868 431.1C1869.3 431.2 1870.7 431.2 1872 431.3C1873.3 431.3 1874.7 431.3 1876 431.3C1877.3 431.3 1878.7 431.3 1880 431.2C1881.3 431.2 1882.7 431.1 1884 431C1885.3 430.9 1886.7 430.8 1888 430.6C1889.3 430.5 1890.7 430.3 1892 430.1C1893.3 430 1894.7 429.8 1896 429.5C1897.3 429.3 1898.7 429.1 1900 428.8C1901.3 428.5 1902.7 428.2 1904 427.9C1905.3 427.6 1906.7 427.3 1908 426.9C1909.3 426.6 1910.7 426.2 1912 425.8C1913.3 425.4 1914.7 425 1916 424.5C1917.3 424.1 1918.7 423.6 1920 423.2C1921.3 422.7 1922.7 422.2 1924 421.7C1925.3 421.1 1926.7 420.6 1928 420.1C1929.3 419.5 1930.7 418.9 1932 418.3C1933.3 417.7 1934.7 417.1 1936 416.5C1937.3 415.8 1938.7 415.2 1940 414.5C1941.3 413.8 1942.7 413.1 1944 412.3C1945.3 411.6 1946.7 410.8 1948 410C1949.3 409.2 1950.7 408.4 1952 407.5C1953.3 406.6 1954.7 405.8 1956 404.6C1957.3 403.4 1958.7 401.6 1960 400.4C1961.3 399.2 1962.7 398.2 1964 397.3C1965.3 396.3 1966.7 395.5 1968 394.7C1969.3 393.9 1971.2 392.8 1972 392.3C1972.8 391.8 1972.8 391.9 1973 391.8"/></defs>
<use href="#w1a" stroke="#e8f4fc" stroke-width="6.5" opacity="0.5"/>
<use href="#w2a" stroke="#e8f4fc" stroke-width="6.5" opacity="0.5"/>
<use href="#w1b" stroke="#e8f4fc" stroke-width="6.5" opacity="0.5"/>
<use href="#w2b" stroke="#e8f4fc" stroke-width="6.5" opacity="0.5"/>
<use href="#w1a" stroke="#bfe2f8" stroke-width="5.2" stroke-dasharray="11.5 6.5" stroke-dashoffset="0.5" opacity="0.8"/>
<use href="#w2a" stroke="#bfe2f8" stroke-width="5.2" stroke-dasharray="9.5 4" stroke-dashoffset="0.5" opacity="0.8"/>
<use href="#w1b" stroke="#bfe2f8" stroke-width="5.2" stroke-dasharray="11.5 6.5" stroke-dashoffset="5.5" opacity="0.8"/>
<use href="#w2b" stroke="#bfe2f8" stroke-width="5.2" stroke-dasharray="9.5 4" stroke-dashoffset="5.5" opacity="0.8"/>
<use href="#w1a" stroke="#1c7dbd" stroke-width="3.1" stroke-dasharray="10.5 7.5" stroke-dashoffset="0"/>
<use href="#w2a" stroke="#1c7dbd" stroke-width="3.1" stroke-dasharray="8.5 5" stroke-dashoffset="0"/>
<use href="#w1b" stroke="#1c7dbd" stroke-width="3.1" stroke-dasharray="10.5 7.5" stroke-dashoffset="5"/>
<use href="#w2b" stroke="#1c7dbd" stroke-width="3.1" stroke-dasharray="8.5 5" stroke-dashoffset="5"/>
</g>
<g fill="none" stroke="#1a1718" stroke-width="2.4" stroke-linecap="round" stroke-linejoin="round">
<path d="M581 348.3C582.8 348.4 588 348.6 592 349C596 349.4 599.9 349.6 605.1 350.7C610.3 351.8 617.2 353.6 623.2 355.6C629.2 357.7 635.3 360.2 641.3 363C647.3 365.8 653.3 369 659.3 372.4C665.3 375.8 671.4 379.5 677.4 383.3C683.4 387.1 691.6 392.5 695.4 395C699.2 397.5 696.2 395.7 700 398.2C703.8 400.7 712.1 406.1 718.1 409.9C724.1 413.7 730.1 417.7 736.1 421.2C742.1 424.7 748.2 428.1 754.2 431.1C760.2 434.1 766.2 436.6 772.2 439.2C778.2 441.8 784.3 444.4 790.3 446.5C796.3 448.6 802.4 450.3 808.4 451.9C814.4 453.5 820.8 454.8 826.4 455.9C832 457 836.1 457.6 842 458.3C847.9 459 858.7 459.6 862 459.9"/>
<path d="M638 353.8C641.5 355.2 652.7 359.4 659.3 362.5C665.9 365.6 671.4 368.9 677.4 372.4C683.4 375.9 689.4 379.8 695.4 383.3C701.4 386.8 708.2 390.1 713.5 393.2C718.8 396.3 721.8 398.5 727.1 401.8C732.4 405.1 739.1 409.4 745.1 413.1C751.1 416.8 757.2 420.6 763.2 423.9C769.2 427.2 775.3 430.1 781.3 432.9C787.3 435.7 793.3 438.3 799.3 440.6C805.3 442.9 811.4 445 817.4 446.9C823.4 448.8 829.4 450.5 835.4 451.9C841.4 453.2 847.5 454.1 853.5 455C859.5 455.9 865.6 456.6 871.6 457.1C877.6 457.6 884.9 457.9 889.6 458.2C894.3 458.4 898.3 458.5 900 458.6"/>
<path d="M736 343.4C738.3 343.8 745.2 344.9 750 346C754.8 347.1 760 348.5 765 350C770 351.5 774.5 353 780 355C785.5 357 791.6 359.2 798.3 362.2C805 365.2 813.5 369.3 820 372.8C826.5 376.3 831.6 379.7 837.5 383.4C843.4 387.1 849.6 391.4 855.3 395C861 398.6 864.8 400.9 871.6 404.9C878.4 408.9 889 415 896.1 418.9C903.2 422.8 908.2 425.4 914.2 428.4C920.2 431.4 926.2 434.4 932.2 437C938.2 439.6 945.9 442.3 950.3 444.2C954.7 446.1 957.2 447.6 958.6 448.3"/>
<path d="M921.6 347.2C923.9 347.7 929.8 348.6 935.1 350.3C940.4 352 947.2 354.5 953.2 357.1C959.2 359.7 965.3 363 971.3 366.1C977.3 369.2 983.3 372.4 989.3 376C995.3 379.6 1001.4 384 1007.4 387.8C1013.4 391.6 1019.4 395.1 1025.4 398.6C1031.4 402.1 1036.7 404.8 1043.5 408.6C1050.3 412.4 1059.3 417.4 1066.1 421.2C1072.9 424.9 1078.2 428.1 1084.2 431.1C1090.2 434.1 1096.2 436.7 1102.2 439.2C1108.2 441.7 1114.3 444 1120.3 446C1126.3 448 1132.4 449.8 1138.4 451.4C1144.4 453 1150.8 454.4 1156.4 455.5C1162 456.6 1166.1 457.3 1172 458C1177.9 458.7 1188.7 459.6 1192 459.9"/>
<path d="M966 354.8C968.4 355.8 974.9 358.2 980.3 360.7C985.7 363.2 992.4 366.5 998.4 369.7C1004.4 372.9 1011.1 376.7 1016.4 379.7C1021.7 382.7 1025.5 384.9 1030 387.5C1034.5 390.1 1039 392.4 1043.5 395C1048 397.6 1051.8 399.7 1057.1 402.9C1062.4 406.1 1069.1 410.8 1075.1 414.4C1081.1 418 1087.2 421.6 1093.2 424.8C1099.2 428 1105.3 431.1 1111.3 433.8C1117.3 436.5 1123.3 438.9 1129.3 441.1C1135.3 443.3 1141.4 445.2 1147.4 446.9C1153.4 448.6 1159.4 450.1 1165.4 451.4C1171.4 452.7 1177.5 453.8 1183.5 454.6C1189.5 455.4 1195.6 455.9 1201.6 456.4C1207.6 456.9 1214.5 457.2 1219.6 457.5C1224.7 457.8 1229.9 458.1 1232 458.2"/>
<path d="M1066 343.4C1068.3 343.8 1075.2 344.9 1080 346C1084.8 347.1 1090 348.5 1095 350C1100 351.5 1104.5 353 1110 355C1115.5 357 1121.6 359.2 1128.3 362.2C1135 365.2 1143.2 369.2 1150 372.8C1156.8 376.4 1162.6 379.9 1168.9 383.6C1175.2 387.3 1181.5 391.1 1188 395C1194.5 398.9 1201.8 403.2 1208.1 407.2C1214.4 411.2 1220.1 415.4 1226.1 419C1232.1 422.6 1238.2 425.8 1244.2 428.9C1250.2 432 1256.2 434.9 1262.2 437.5C1268.2 440.1 1275.6 442.9 1280.3 444.7C1285 446.5 1288.5 447.7 1290.2 448.3"/>
<path d="M1252.6 346.7C1254.8 347.1 1260.8 347.8 1266.1 349.4C1271.4 351 1278.2 353.6 1284.2 356.2C1290.2 358.8 1296.2 362 1302.2 365.2C1308.2 368.4 1314.3 371.6 1320.3 375.1C1326.3 378.6 1332.4 382.5 1338.4 386C1344.4 389.5 1350.9 393.1 1356.4 395.9C1361.9 398.7 1368.8 401.8 1371.3 403"/>
<path d="M1298 355C1298.7 355.2 1298.5 354.8 1302.2 356.2C1305.9 357.6 1314.3 360.7 1320.3 363.4C1326.3 366.1 1332.4 369.1 1338.4 372.4C1344.4 375.7 1350.4 379.7 1356.4 383.3C1362.4 386.9 1369.2 391 1374.5 394.1C1379.8 397.2 1384.7 400.5 1388 402.2C1391.3 403.9 1392 404.1 1394.3 404.5C1396.6 404.9 1398.9 405.2 1401.6 404.9C1404.3 404.6 1407.6 404 1410.6 402.7C1413.6 401.4 1416.9 399.3 1419.6 396.8C1422.3 394.3 1425.1 391.1 1426.8 387.8C1428.5 384.5 1429.3 380.6 1429.5 377C1429.7 373.4 1428.9 369.6 1427.7 366.1C1426.5 362.6 1424.4 359.1 1422.3 356.2C1420.2 353.3 1417.6 350.9 1415.1 349C1412.6 347.1 1408.8 345.3 1407.5 344.6"/>
<path d="M579.4 348C580.1 350 582.4 356 583.5 359.8C584.6 363.6 585.6 367.6 586.2 370.6C586.8 373.6 586.2 375.6 587.1 377.9C588 380.2 589.8 381.3 591.6 384.2C593.4 387.1 596.2 391.9 597.9 395C599.5 398.1 600.4 400.3 601.5 403C602.6 405.7 603.3 408 604.5 411C605.7 414 608.1 419.2 608.8 420.8"/>
<path d="M608.8 420.8C609.8 421.9 612.6 425.2 615 427.5C617.4 429.8 619.6 431.6 623.2 434.3C626.8 437 632.8 441.2 636.7 443.6C640.6 446 645 447.9 646.7 448.8"/>
<path d="M559.5 399.8L587.1 378.2"/>
<path d="M559 404L579 415.8"/>
<path d="M563.8 416.2L579 416.2"/>
<path d="M579 415.9C580.2 415.6 583.8 414.4 586.2 414.2C588.6 414 591.1 414 593.4 414.5C595.6 415 597.1 416.1 599.7 417.2C602.3 418.2 607.3 420.2 608.8 420.8"/>
<path d="M578.5 454.2C582.9 453.9 597.6 453.3 605.1 452.6C612.6 451.9 617.3 451 623.2 449.8C629.1 448.6 637.6 446.3 640.5 445.6" stroke-width="2.8"/>
<circle cx="575.8" cy="376.6" r="5.4" stroke-width="2.2"/>
<path d="M1371.3 402.4V459"/>
<path d="M1441.5 344V459.5 M1451.7 338V466" stroke-width="2.2"/>
<path d="M1962.1 338V466" stroke-width="2.2"/>
</g>
<g fill="none" stroke="#1a1718" stroke-width="5.6" stroke-linejoin="miter" stroke-linecap="butt">
<path d="M577.5 460.6L556.8 402L578 343.1" stroke-linejoin="miter" stroke-width="5"/>
<path d="M578 343.1C580 343.2 585.5 343.4 590 343.8C594.5 344.2 599.6 344.6 605.1 345.5C610.6 346.4 617.9 348.1 623.2 349.4C628.5 350.7 634.6 352.7 636.9 353.4" stroke-linecap="round" stroke-width="5"/>
<path d="M577.5 460.6C581.2 460.3 592.1 459.7 600 458.6C607.9 457.5 617.2 455.8 625 454.2C632.8 452.6 643.1 449.8 646.7 448.9" stroke-linecap="round" stroke-width="5"/>
<path d="M636.9 353.4C638.6 352.8 643.3 351 647 349.8C650.7 348.6 655.5 347.3 659.3 346.4C663.1 345.5 666.2 344.8 670 344.2C673.8 343.6 677.2 343.1 681.9 342.8C686.6 342.5 678.3 342.4 698 342.3C717.7 342.2 765.7 342.3 800 342.3C834.3 342.3 885.3 342.2 904 342.3C922.7 342.4 908.3 342.2 912 342.6C915.7 343 920.7 343.8 926.1 344.9C931.5 346 937.7 347.8 944.2 349.4C950.7 351 961.5 353.7 964.9 354.6" stroke-linecap="round"/>
<path d="M964.9 354.6C967.5 353.7 974.7 351 980.3 349.4C985.9 347.8 993.4 346 998.4 344.9C1003.4 343.8 1005.7 343.4 1010 343C1014.3 342.6 1004 342.4 1024 342.3C1044 342.2 1094.7 342.3 1130 342.3C1165.3 342.3 1217 342.2 1236 342.3C1255 342.4 1240.5 342.2 1244 342.6C1247.5 343 1251.9 343.8 1257.1 344.9C1262.3 346 1268.5 347.8 1275.1 349.4C1281.7 351 1293.2 353.9 1296.8 354.8" stroke-linecap="round"/>
<path d="M1296.8 354.8C1299.2 354.1 1305.9 351.7 1311.3 350.3C1316.7 348.9 1323.3 347.4 1329.3 346.3C1335.3 345.2 1341.4 344.2 1347.4 343.5C1353.4 342.8 1356.6 342.5 1365.4 342.3C1374.2 342.1 1387.3 342.3 1400 342.3C1412.7 342.3 1434.6 342.3 1441.5 342.3" stroke-linecap="round"/>
<path d="M646.7 448.9C648.1 449.4 652 451 655 452C658 453 661.3 454 665 455C668.7 456 673.1 457 677.4 457.8C681.7 458.6 686.2 459.5 691 460C695.8 460.5 691.2 460.7 706 460.8C720.8 460.9 756 460.8 780 460.8C804 460.8 835 460.9 850 460.8C865 460.7 863.8 460.3 870 460C876.2 459.7 879.7 459.6 887.1 459.1C894.5 458.6 906.7 457.6 914.2 456.9C921.7 456.1 926.2 455.6 932.2 454.6C938.2 453.6 945.9 451.9 950.3 451C954.7 450.1 957.2 449.3 958.6 449" stroke-linecap="round"/>
<path d="M958.6 449C961.7 449.7 971.3 452 977.4 453.3C983.5 454.6 989.4 455.9 995.4 456.9C1001.4 457.9 1006.9 458.5 1013.5 459.1C1020.1 459.8 1018.9 460.5 1035 460.8C1051.1 461.1 1085.8 460.8 1110 460.8C1134.2 460.8 1165 460.9 1180 460.8C1195 460.7 1193.8 460.3 1200 460C1206.2 459.7 1209.7 459.6 1217.1 459.1C1224.5 458.7 1236.7 458 1244.2 457.3C1251.7 456.6 1256.2 456.1 1262.2 455.1C1268.2 454.1 1275.6 452.5 1280.3 451.5C1285 450.5 1288.5 449.3 1290.2 448.9" stroke-linecap="round"/>
<path d="M1290.2 448.9C1293.1 449.6 1301.5 452 1307.4 453.3C1313.3 454.6 1319.4 455.9 1325.4 456.9C1331.4 457.9 1337.1 458.5 1343.5 459.1C1349.9 459.8 1354.6 460.5 1364 460.8C1373.4 461.1 1387.1 460.8 1400 460.8C1412.9 460.8 1434.6 460.8 1441.5 460.8" stroke-linecap="round"/>
<path d="M1440 342.3 H1441.5 L1451.7 336.9 H1962 L1973.8 349.4 V454.4 L1962 466.9 H1451.7 L1441.5 460.8 H1440"/>
</g>
<g fill="none" stroke="#1a1718" stroke-width="2.2">
<path d="M556.2 147V391 M556.2 412.5V774.5" stroke-width="2.5"/>
<path d="M577.2 147V330.5" stroke-width="2.5"/>
<path d="M1973.6 147V336.8 M1973.6 467V774" stroke-width="2.5"/>
<path d="M1229.3 471.5V567.5"/>
<path d="M1429.8 391.4V663.5"/>
<path d="M484.5 165.9H556 M577 165.9H1973"/>
<path d="M556 165.9H577" />
<path d="M556.5 555.5H1229 M556.5 653H1430 M556.5 749.6H1973"/>
<path d="M436 342.6H566.5 M436 460.8H566.5"/>
<path d="M456.5 345V458"/>
<path d="M1973 336.8H2252.5 M1973 467H2252.5 M2233.5 340V464"/>
<path d="M467.6 163.2L552.7 390.6 M551.9 413.2L470.6 640.6"/>
<path d="M463 194A253 253 0 0 0 464.4 611"/>
</g>
<g fill="#1a1718" stroke="none">
<path d="M555.5 165.9L527.5 171.5L527.5 160.3Z"/>
<path d="M578 165.9L606 160.3L606 171.5Z"/>
<path d="M1972.8 165.9L1944.8 171.5L1944.8 160.3Z"/>
<path d="M557 555.5L585 549.9L585 561.1Z"/>
<path d="M1228.5 555.5L1200.5 561.1L1200.5 549.9Z"/>
<path d="M557 653L585 647.4L585 658.6Z"/>
<path d="M1429.5 653L1401.5 658.6L1401.5 647.4Z"/>
<path d="M557 749.6L585 744L585 755.2Z"/>
<path d="M1972.5 749.6L1944.5 755.2L1944.5 744Z"/>
<path d="M456.5 343.4L462.1 371.4L450.9 371.4Z"/>
<path d="M456.5 460L450.9 432L462.1 432Z"/>
<path d="M2233.5 337.6L2239.1 365.6L2227.9 365.6Z"/>
<path d="M2233.5 466.2L2227.9 438.2L2239.1 438.2Z"/>
<path d="M476.4 188.1L456.6 208.7L450 199.2Z"/>
<path d="M476.4 617.1L450 606L456.6 596.5Z"/>
</g>
<circle cx="120.7" cy="402.3" r="59.5" fill="#dce3e8"/>
<g clip-path="url(#secclip)"><rect x="55" y="336" width="132" height="132" filter="url(#grain)" opacity="0.35"/><rect x="55" y="336" width="132" height="132" filter="url(#grainw)" opacity="0.9"/></g>
<g fill="none" stroke="#1a1718">
<circle cx="120.7" cy="402.3" r="59.5" stroke-width="1.8" stroke-dasharray="26 3.5 4 3.5"/>
<path d="M31.2 402.3H206" stroke-width="2" stroke-dasharray="26.4 4 4 4"/>
<path d="M120.7 316.1V490.7" stroke-width="2" stroke-dasharray="20.3 4 4 4 26.4 4 4 4 26.4 4 4 4 26.4 4 4 4 26.4 4 4 4"/>
<path d="M74.5 428.6C79 426.4 93.9 419.7 101.6 415.3C109.3 410.9 114.4 406.5 120.8 402C127.2 397.5 132.3 392.8 140 388.4C147.7 384 162.6 377.7 167.1 375.6" stroke-width="2"/>
<path d="M112.4 386.9C112.9 388.2 114.2 392.3 115.6 394.8C117 397.3 119.1 399.6 120.8 402C122.5 404.4 124.6 406.6 126 409.2C127.4 411.8 128.7 415.9 129.2 417.3" stroke-width="2"/>
<path d="M111.1 346.3L113.4 346.5A56.3 56.3 0 0 1 176.7 396.9L172.7 401.1L167.4 404.8L162.7 403.2L157.9 403.5A36 36 0 0 0 130.3 458.3L128 458.1A56.3 56.3 0 0 1 64.7 407.7L68.7 403.5L74 399.8L78.7 401.4L83.5 401.1A36 36 0 0 0 111.1 346.3Z" stroke-width="4.5" stroke-linejoin="round"/>
</g>
<circle cx="141.1" cy="378" r="5.2" fill="#fff" stroke="#1c7dbd" stroke-width="2.8"/>
<circle cx="100.5" cy="425.8" r="5.2" fill="#fff" stroke="#1c7dbd" stroke-width="2.8"/>
<g opacity="0.99">
<text x="546.5" y="135.7" textLength="44.5" lengthAdjust="spacingAndGlyphs">PL</text>
<text x="1228" y="152.7" textLength="43" lengthAdjust="spacingAndGlyphs">LF</text>
<text x="275.5" y="419.1" textLength="61.5" lengthAdjust="spacingAndGlyphs">SIG</text>
<text x="387" y="419.1" textLength="54" lengthAdjust="spacingAndGlyphs">DC</text>
<text x="890" y="535.7" textLength="49" lengthAdjust="spacingAndGlyphs">LU</text>
<text x="976.5" y="633.7" textLength="70.5" lengthAdjust="spacingAndGlyphs">LCF</text>
<text x="1253" y="734.2" textLength="77" lengthAdjust="spacingAndGlyphs">OAL</text>
<text x="2050.5" y="415.1" textLength="165.5" lengthAdjust="spacingAndGlyphs">DCONMS</text>
</g>
</svg></body></html>
